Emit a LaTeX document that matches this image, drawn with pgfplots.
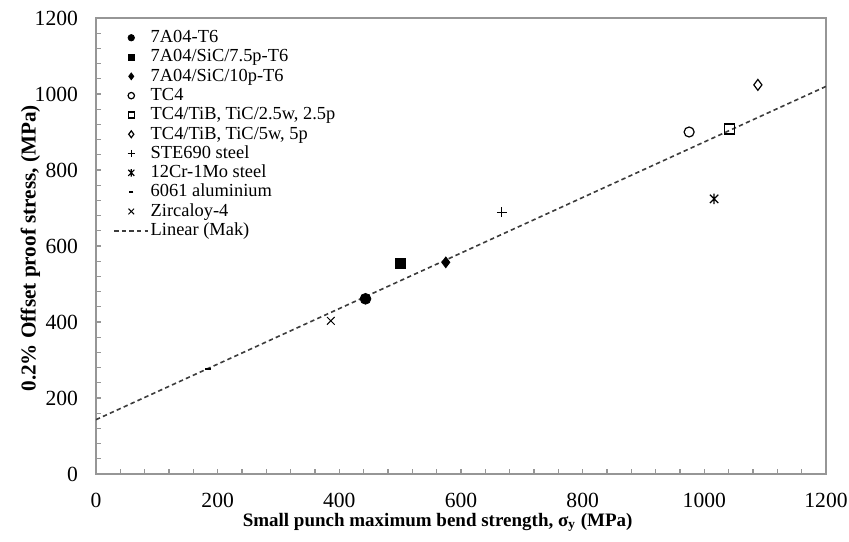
\documentclass[border=0pt]{standalone}
\usepackage{fontspec}
\setmainfont{Liberation Serif}
\usepackage{pgfplots}
\pgfplotsset{compat=1.18}
\usetikzlibrary{calc}
\definecolor{frameGray}{RGB}{150,150,150}
\definecolor{lineDark}{RGB}{60,60,60}

\newcommand{\legfont}{\fontsize{9.2pt}{9.5pt}\selectfont}
% x with a vertical bar, as in the source figure
\pgfdeclareplotmark{xbar}{%
  \pgfpathmoveto{\pgfqpoint{-0.8\pgfplotmarksize}{-0.8\pgfplotmarksize}}%
  \pgfpathlineto{\pgfqpoint{0.8\pgfplotmarksize}{0.8\pgfplotmarksize}}%
  \pgfpathmoveto{\pgfqpoint{-0.8\pgfplotmarksize}{0.8\pgfplotmarksize}}%
  \pgfpathlineto{\pgfqpoint{0.8\pgfplotmarksize}{-0.8\pgfplotmarksize}}%
  \pgfpathmoveto{\pgfqpoint{0pt}{-\pgfplotmarksize}}%
  \pgfpathlineto{\pgfqpoint{0pt}{\pgfplotmarksize}}%
  \pgfusepathqstroke}
\pgfplotsset{
    smallmark/.style={legend image code/.code={
        \path (0cm,0cm) (0.6cm,0cm);
        \draw[mark size=#1, mark repeat=1] plot coordinates {(0.3cm,0cm)};}},
}

\begin{document}
\begin{tikzpicture}
\begin{axis}[
    scale only axis,
    width=365pt, height=228pt,
    xmin=0, xmax=1200, ymin=0, ymax=1200,
    xtick={0,200,...,1200}, ytick={0,200,...,1200},
    minor tick num=4,
    tick align=inside, tick pos=left,
    major tick length=2.5pt, minor tick length=2.5pt,
    axis line style={frameGray, line width=0.7pt},
    every tick/.style={frameGray, line width=0.6pt},
    /pgf/number format/assume math mode=true,
    /pgf/number format/1000 sep={},
    tick label style={font=\fontsize{10.8pt}{12pt}\selectfont},
    yticklabel style={xshift=-5.5pt},
    xticklabel style={yshift=-6pt},
    xlabel={\fontsize{9.5pt}{11pt}\selectfont\bfseries Small punch maximum bend strength, σ\textsubscript{y} (MPa)},
    ylabel={\fontsize{10.6pt}{12pt}\selectfont\bfseries 0.2\% Offset proof stress, (MPa)},
    every axis x label/.style={at={(axis description cs:0.468,-0.105)}, anchor=center},
    every axis y label/.style={at={(axis description cs:-0.09,0.495)}, rotate=90, anchor=center},
    legend style={draw=none, fill=none, at={(axis description cs:0.02,0.983)}, anchor=north west,
        row sep=0.05pt, inner sep=1pt,
        nodes={inner sep=0.6pt, text height=6.6pt, text depth=1.8pt}},
    legend cell align=left,
]
\addplot[only marks, mark=*, mark size=2.7pt, black, smallmark=1.6pt] coordinates {(443,461)};
\addlegendentry{\legfont 7A04-T6}
\addplot[only marks, mark=square*, mark size=2.5pt, black, smallmark=1.5pt] coordinates {(500,555)};
\addlegendentry{\legfont 7A04/SiC/7.5p-T6}
\addplot[only marks, mark=diamond*, mark size=2.7pt, black, smallmark=1.7pt] coordinates {(575,557)};
\addlegendentry{\legfont 7A04/SiC/10p-T6}
\addplot[only marks, mark=o, mark size=2.5pt, black, line width=0.6pt, smallmark=1.6pt] coordinates {(975,900)};
\addlegendentry{\legfont TC4}
\addplot[only marks, mark=square, mark size=2.5pt, black, line width=0.6pt, smallmark=1.5pt] coordinates {(1041,908)};
\addlegendentry{\legfont TC4/TiB, TiC/2.5w, 2.5p}
\addplot[only marks, mark=diamond, mark size=2.7pt, black, line width=0.6pt, smallmark=1.7pt] coordinates {(1088,1024)};
\addlegendentry{\legfont TC4/TiB, TiC/5w, 5p}
\addplot[only marks, mark=+, mark size=2.5pt, black, line width=0.6pt, smallmark=1.8pt] coordinates {(667,689)};
\addlegendentry{\legfont STE690 steel}
\addplot[only marks, mark=xbar, mark size=2.6pt, black, line width=0.6pt, smallmark=1.9pt] coordinates {(1016,724)};
\addlegendentry{\legfont 12Cr-1Mo steel}
\addplot[only marks, mark=-, mark size=1.3pt, black, line width=1.2pt, smallmark=1.1pt] coordinates {(184,276)};
\addlegendentry{\legfont 6061 aluminium}
\addplot[only marks, mark=x, mark size=2.7pt, black, line width=0.5pt, smallmark=2pt] coordinates {(386,403)};
\addlegendentry{\legfont Zircaloy-4}
\addplot[lineDark, line width=0.8pt, dash pattern=on 2.2pt off 1.6pt] coordinates {(0,143) (1200,1020)};
\addlegendentry{\legfont Linear (Mak)}
\end{axis}
\pgfresetboundingbox
\path ($(current axis.south west)+(-48pt,-33.5pt)$) rectangle ($(current axis.north east)+(11.5pt,9pt)$);
\end{tikzpicture}
\end{document}
